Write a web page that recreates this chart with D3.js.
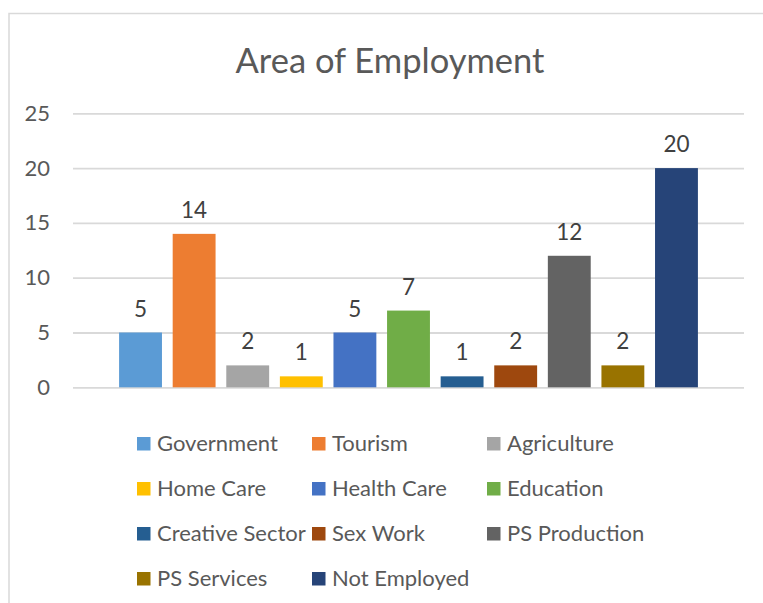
<!DOCTYPE html>
<html>
<head>
<meta charset="utf-8">
<script src="https://cdn.jsdelivr.net/npm/d3@7"></script>
<style>
  html, body { margin: 0; padding: 0; background: #ffffff; }
  svg { display: block; font-family: Lato, "Open Sans", sans-serif; }
</style>
</head>
<body>
<svg id="chart" width="763" height="603"></svg>
<script>
const title = "Area of Employment";
const categories = ["Government", "Tourism", "Agriculture", "Home Care", "Health Care", "Education",
                    "Creative Sector", "Sex Work", "PS Production", "PS Services", "Not Employed"];
const values = [5, 14, 2, 1, 5, 7, 1, 2, 12, 2, 20];
const colors = ["#5B9BD5", "#ED7D31", "#A5A5A5", "#FFC000", "#4472C4", "#70AD47",
                "#255E91", "#9E480E", "#636363", "#997300", "#264478"];
const yTicks = [0, 5, 10, 15, 20, 25];

const svg = d3.select("#chart");
const textColor = "#595959";
const gridColor = "#D9D9D9";

// chart area border (left and top edges visible)
svg.append("path")
  .attr("d", "M9,603 L9,13.5 L763,13.5")
  .attr("fill", "none")
  .attr("stroke", gridColor)
  .attr("stroke-width", 1.5);

// title
svg.append("text")
  .attr("x", 390)
  .attr("y", 73)
  .attr("text-anchor", "middle")
  .attr("font-size", 34.5)
  .attr("fill", textColor)
  .text(title);

const plotLeft = 73, plotRight = 744, plotTop = 113.3, plotBottom = 387.3;

const x = d3.scaleBand()
  .domain(categories)
  .range([plotLeft, plotRight])
  .paddingInner(0.2)
  .paddingOuter(0.86);

const y = d3.scaleLinear()
  .domain([0, 25])
  .range([plotBottom, plotTop]);

// gridlines + y labels
const yAxis = d3.axisLeft(y)
  .tickValues(yTicks)
  .tickSize(-(plotRight - plotLeft))
  .tickPadding(23)
  .tickFormat(d3.format("d"));

const gAxis = svg.append("g")
  .attr("transform", `translate(${plotLeft},0)`)
  .call(yAxis);
gAxis.select(".domain").remove();
gAxis.selectAll(".tick line")
  .attr("stroke", gridColor)
  .attr("stroke-width", 1.8);
gAxis.selectAll(".tick text")
  .attr("fill", textColor)
  .attr("font-size", 22)
  .attr("font-family", "Lato, 'Open Sans', sans-serif");

// bars
const data = categories.map((c, i) => ({ cat: c, value: values[i], color: colors[i] }));

svg.append("g").selectAll("rect")
  .data(data)
  .join("rect")
  .attr("x", d => x(d.cat))
  .attr("y", d => y(d.value))
  .attr("width", x.bandwidth())
  .attr("height", d => y(0) - y(d.value))
  .attr("fill", d => d.color);

// data labels
svg.append("g").selectAll("text")
  .data(data)
  .join("text")
  .attr("x", d => x(d.cat) + x.bandwidth() / 2)
  .attr("y", d => y(d.value) - 16)
  .attr("text-anchor", "middle")
  .attr("font-size", 22.5)
  .attr("fill", "#404040")
  .text(d => d.value);

// legend
const legend = svg.append("g");
const items = legend.selectAll("g")
  .data(data)
  .join("g")
  .attr("transform", (d, i) => `translate(${137 + (i % 3) * 175},${451 + Math.floor(i / 3) * 45})`);
items.append("rect")
  .attr("x", 0)
  .attr("y", -14)
  .attr("width", 13.5)
  .attr("height", 13.5)
  .attr("fill", d => d.color);
items.append("text")
  .attr("x", 20)
  .attr("y", 0)
  .attr("font-size", 22)
  .attr("fill", textColor)
  .text(d => d.cat);
</script>
</body>
</html>
